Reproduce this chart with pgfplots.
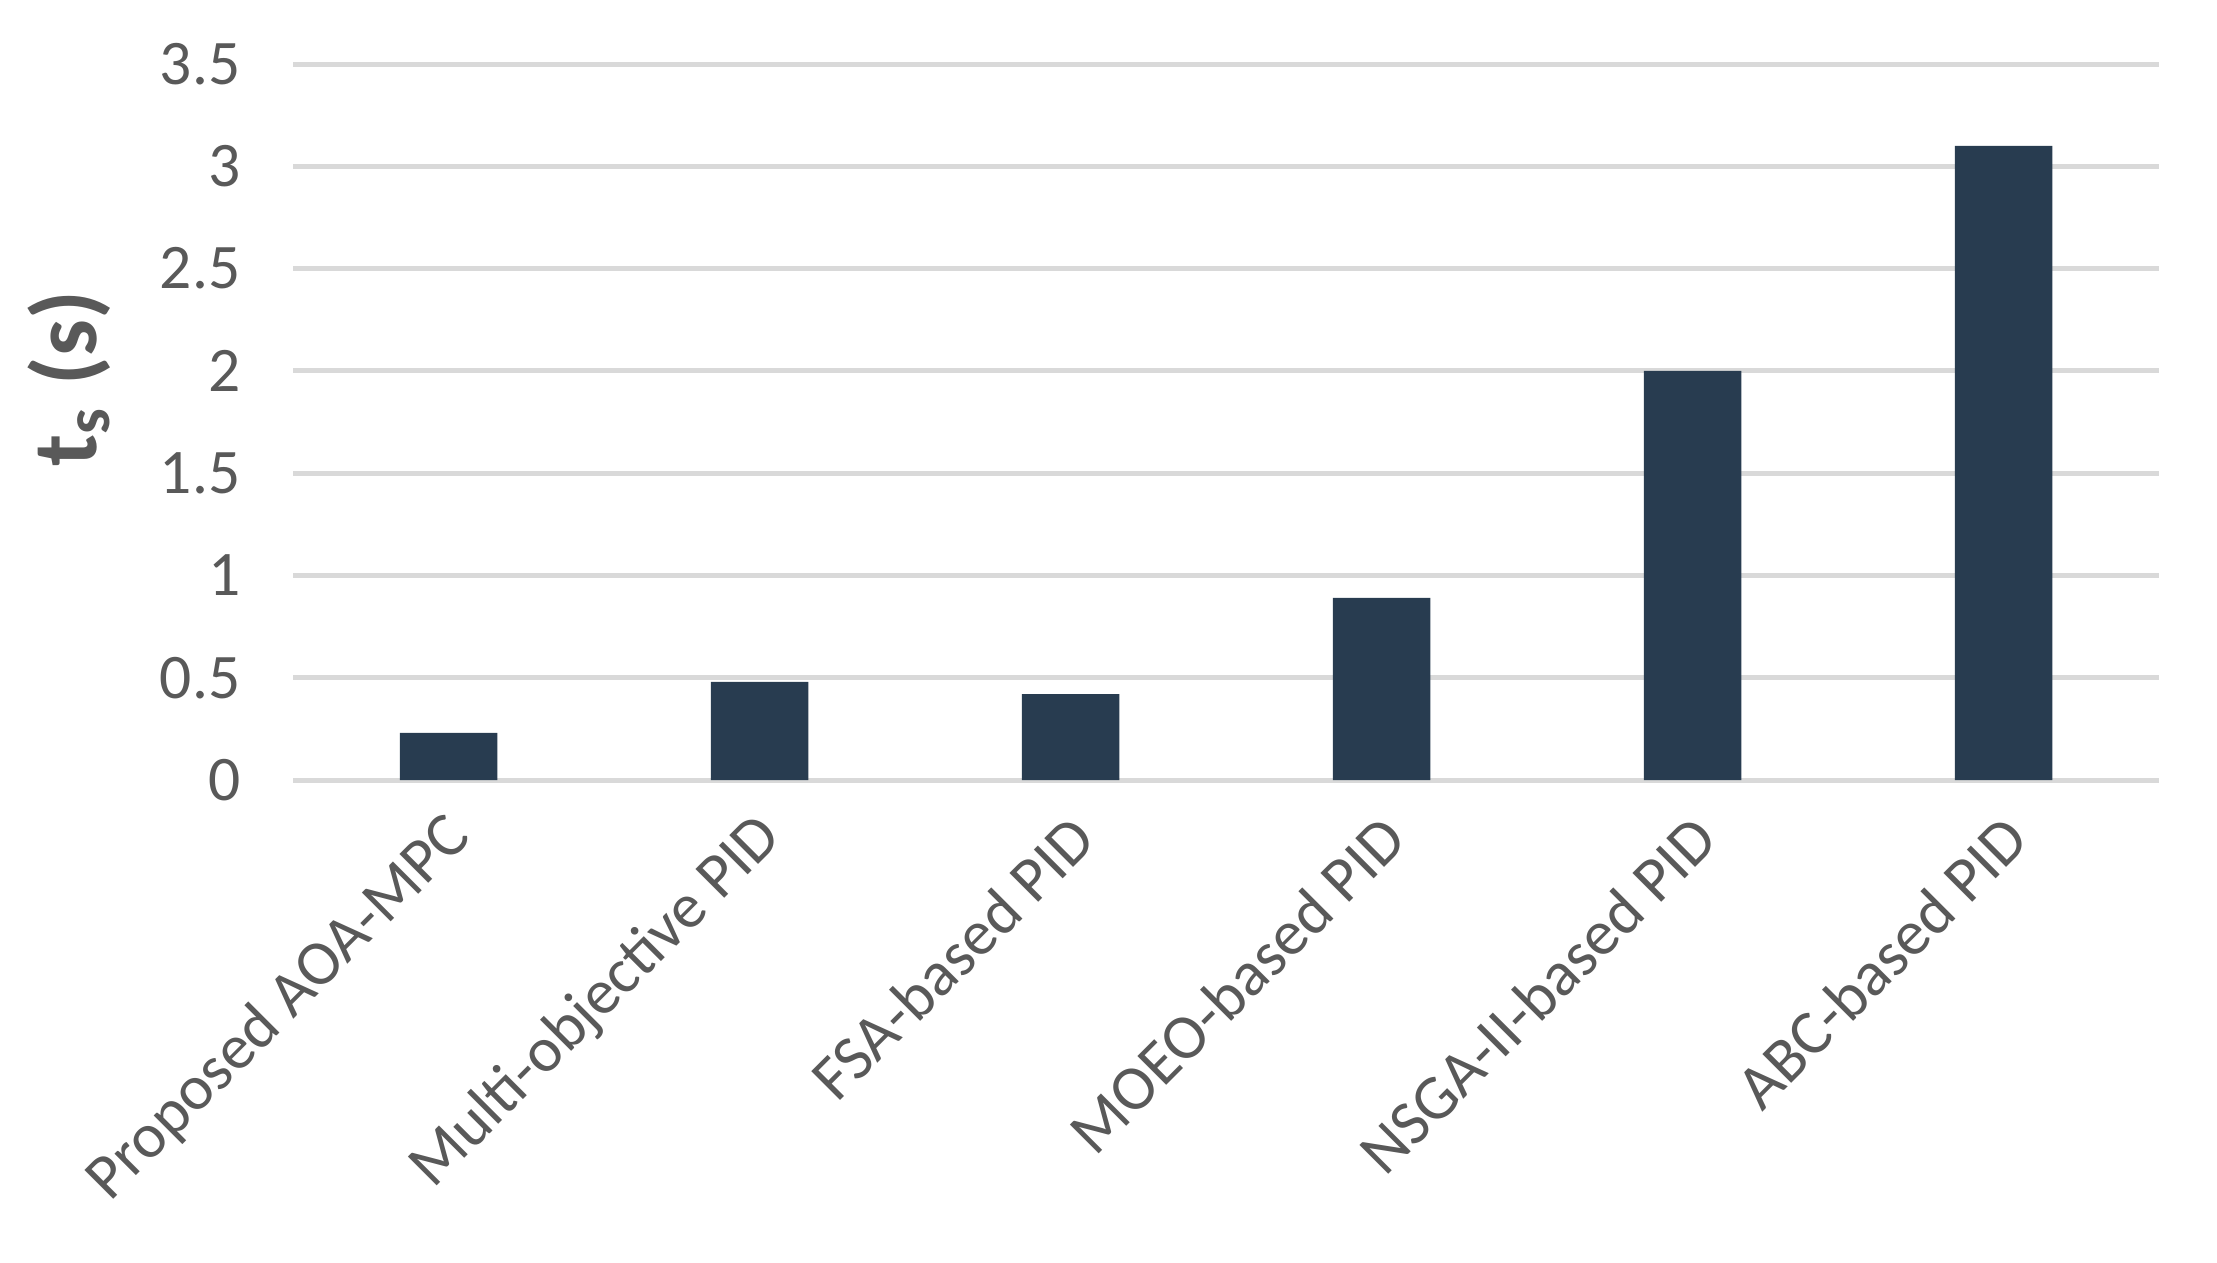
\documentclass[border=0pt]{standalone}
\usepackage{fontspec}
\setmainfont{Carlito}
\usepackage{pgfplots}
\pgfplotsset{compat=1.18}
\definecolor{barc}{HTML}{283C50}
\definecolor{txt}{HTML}{595959}
\definecolor{gridc}{HTML}{D9D9D9}
\begin{document}
\begin{tikzpicture}
\useasboundingbox (-58.6pt,-96.4pt) rectangle (384.8pt,156pt);
\begin{axis}[
    at={(0,0)}, anchor=south west,
    scale only axis,
    width=373.2pt, height=143.2pt,
    xmin=-0.5, xmax=5.5,
    ymin=0, ymax=3.5,
    ytick={0,0.5,1,1.5,2,2.5,3,3.5},
    yticklabels={0,0.5,1,1.5,2,2.5,3,3.5},
    xtick={0,1,2,3,4,5},
    xticklabels={Proposed AOA-MPC, Multi-objective PID, FSA-based PID, MOEO-based PID, NSGA-II-based PID, ABC-based PID},
    axis line style={draw=none},
    major tick length=0pt,
    ymajorgrids,
    grid style={gridc, line width=1pt},
    tick label style={font=\fontsize{12.7}{14}\selectfont, text=txt},
    y tick label style={anchor=east, xshift=-7pt},
    x tick label style={rotate=45, anchor=east, xshift=-1.5pt, yshift=-8.5pt},
    ylabel={\textbf{t\textsubscript{s} (s)}},
    ylabel style={at={(axis description cs:-0.12,0.56)}, anchor=center, rotate=0, font=\fontsize{18.5}{20}\selectfont, text=txt},
]
\addplot[ybar, bar width=19.5pt, fill=barc, draw=none] coordinates {
    (0, 0.23)
    (1, 0.48)
    (2, 0.42)
    (3, 0.89)
    (4, 2.00)
    (5, 3.10)
};
\end{axis}
\end{tikzpicture}
\end{document}
